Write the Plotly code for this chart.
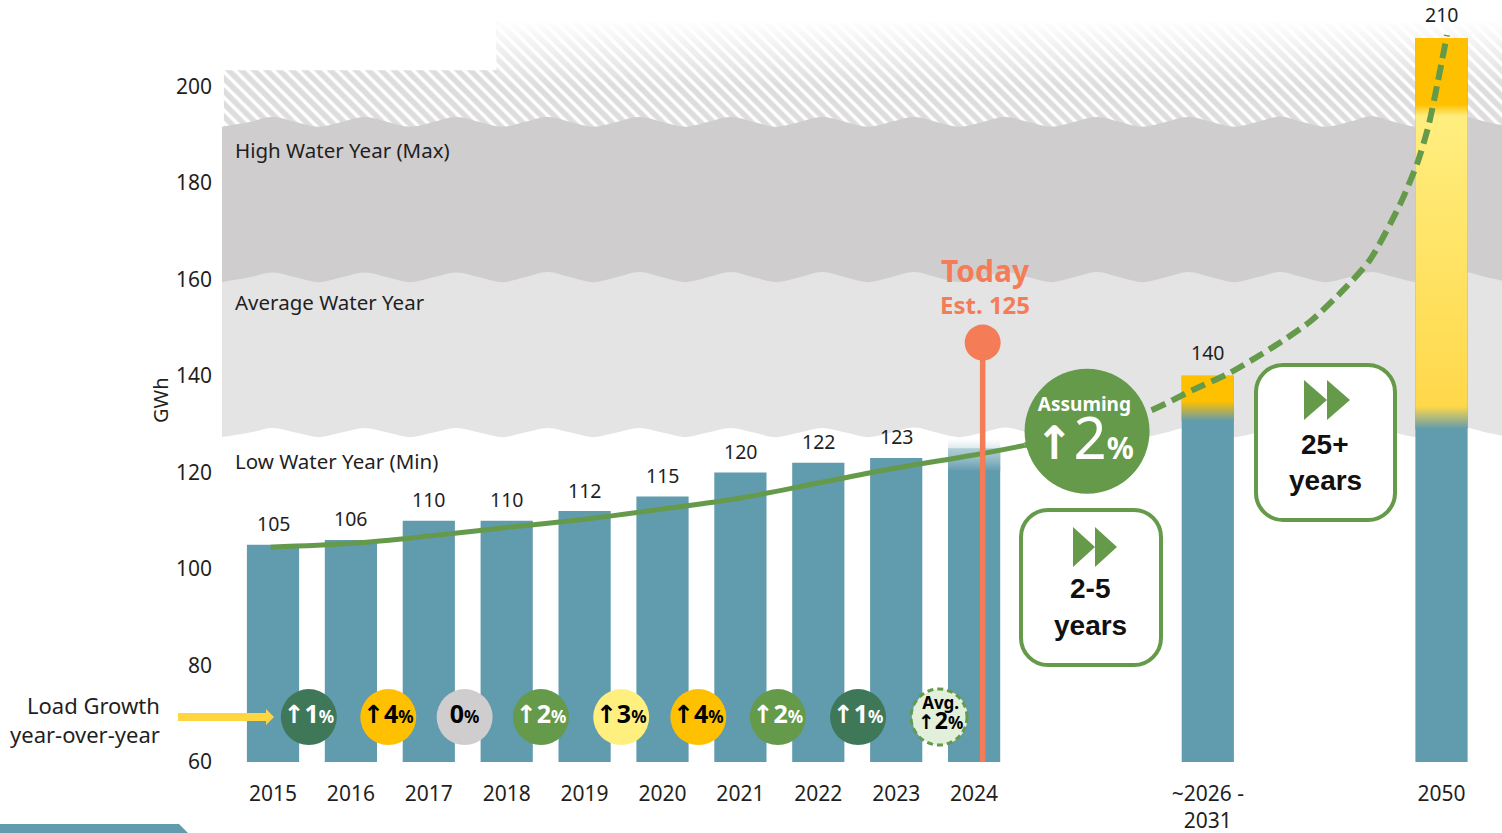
import plotly.graph_objects as go

# ---------- data ----------
bar_x = [0, 1, 2, 3, 4, 5, 6, 7, 8, 9, 12, 15]
bar_labels = ["2015", "2016", "2017", "2018", "2019", "2020", "2021", "2022", "2023", "2024", "~2026 -<br>2031", "2050"]
bar_values = [105, 106, 110, 110, 112, 115, 120, 122, 123, 125, 140, 210]
value_text = ["105", "106", "110", "110", "112", "115", "120", "122", "123", "", "140", "210"]
y_ticks = [60, 80, 100, 120, 140, 160, 180, 200]

curve_x = [-0.03, 1, 2, 3, 4, 5, 6, 7, 8, 9, 9.65]
curve_y = [104.5, 105.3, 106.8, 108.6, 110.3, 112.4, 114.7, 117.8, 120.9, 123.6, 125.6]
dash_x = [9.65, 11.22, 11.81, 12.28, 12.84, 13.31, 13.74, 14.08, 14.47, 14.69, 14.83, 14.95, 15.07]
dash_y = [125.6, 132.5, 137.1, 140.6, 146.0, 151.2, 157.8, 164.0, 175.6, 184.1, 191.6, 200.7, 210.6]

wave_x = [-0.66, -0.3, 0, 0.29, 0.59, 0.88, 1.18, 1.47, 1.76, 2.06, 2.35, 2.65, 2.94, 3.23, 3.53, 3.82, 4.11, 4.41,
          4.7, 5.0, 5.29, 5.58, 5.88, 6.17, 6.46, 6.76, 7.05, 7.35, 7.64, 7.93, 8.23, 8.52, 8.81, 9.11, 9.4, 9.7,
          9.99, 10.28, 10.58, 10.87, 11.16, 11.46, 11.75, 12.05, 12.34, 12.63, 12.93, 13.22, 13.51, 13.81, 14.1,
          14.4, 14.69, 14.98, 15.28, 15.58, 15.87]
high_top = [191.6, 192.6, 193.6, 192.6, 191.6, 192.6, 193.6, 192.6, 191.6, 192.6, 193.6, 192.6, 191.6, 192.6, 193.6,
            192.6, 191.6, 192.6, 193.6, 192.6, 191.6, 192.6, 193.6, 192.6, 191.6, 192.6, 193.6, 192.6, 191.6, 192.6,
            193.6, 192.6, 191.6, 192.6, 193.6, 192.6, 191.6, 192.6, 193.6, 192.6, 191.6, 192.6, 193.6, 192.6, 191.6,
            192.6, 193.7, 192.6, 191.6, 192.6, 193.8, 192.6, 191.6, 192.6, 193.7, 192.6, 191.6]
avg_top = [159.4, 160.4, 161.4, 160.4, 159.4, 160.4, 161.4, 160.4, 159.4, 160.4, 161.4, 160.4, 159.4, 160.4, 161.5,
           160.4, 159.4, 160.4, 161.5, 160.4, 159.4, 160.4, 161.5, 160.4, 159.4, 160.4, 161.5, 160.4, 159.4, 160.4,
           161.5, 160.4, 159.4, 160.4, 161.5, 160.4, 159.4, 160.4, 161.5, 160.4, 159.4, 160.4, 161.5, 160.4, 159.4,
           160.4, 161.5, 160.4, 159.4, 160.4, 161.5, 160.4, 159.4, 160.4, 161.5, 160.4, 159.4]
low_top = [127.3, 128.25, 129.2, 128.25, 127.3, 128.25, 129.2, 128.25, 127.3, 128.25, 129.2, 128.25, 127.3, 128.25,
           129.2, 128.25, 127.3, 128.25, 129.2, 128.25, 127.3, 128.25, 129.2, 128.25, 127.3, 128.25, 129.2, 128.25,
           127.3, 128.25, 129.3, 128.25, 127.3, 128.25, 129.3, 128.25, 127.3, 128.25, 129.3, 128.25, 127.3, 128.25,
           129.3, 128.25, 127.3, 128.25, 129.3, 128.25, 127.3, 128.25, 129.3, 128.25, 127.3, 128.25, 129.3, 128.25, 127.3]

growth_x = [0.46, 1.48, 2.46, 3.44, 4.47, 5.46, 6.48, 7.51, 8.56]
growth_y = [69.3] * 9
growth_text = ["↑|1", "↑|4", "|0", "↑|2", "↑|3", "↑|4", "↑|2", "↑|1", ""]
growth_fill = ["#3F7858", "#FFC000", "#CFCDCE", "#659A4B", "#FFEF7F", "#FFC000", "#659A4B", "#3F7858", "#E2EFDA"]
growth_ink = ["white", "black", "black", "white", "black", "black", "white", "white", "black"]

# ---------- styling ----------
FONT = "Noto Sans"
TEAL = "#619BAE"
GREEN = "#659A4B"
CORAL = "#F47C56"
AMBER = "#FFC000"
INK = "#1F1F1F"
BAR_W = 0.67
PX_PER_X = 77.9
PLOT_L, PLOT_B, PLOT_W = 222, 762, 1280


def px(x):
    return (x - PLOT_L) / PLOT_W


def py(y):
    return (PLOT_B - y) / PLOT_B


def arrow(size):
    return f"<span style='font-family:DejaVu Sans;font-weight:bold;font-size:{size}px'>↑</span>"


fig = go.Figure()


def band(y, color, z=0):
    fig.add_trace(go.Scatter(x=wave_x, y=y, mode="lines", line=dict(width=0, shape="spline", smoothing=1),
                             fill="tozeroy", fillcolor=color, zorder=z, hoverinfo="skip", showlegend=False))


# hatched sky
fig.add_trace(go.Scatter(x=[-0.63, -0.63, 2.87, 2.87, 15.8, 15.8], y=[150, 203.3, 203.3, 213.4, 213.4, 150],
                         mode="lines", line=dict(width=0), fill="toself", fillcolor="white",
                         fillpattern=dict(shape="\\", fgcolor="#BBBBBB", bgcolor="white", size=9, solidity=0.62),
                         zorder=0, hoverinfo="skip", showlegend=False))
fig.add_trace(go.Scatter(x=[2.87, 2.87, 15.8, 15.8, 2.87], y=[200, 213.6, 213.6, 200, 200], mode="lines",
                         line=dict(width=0), fill="toself",
                         fillgradient=dict(type="vertical", start=200, stop=213.6,
                                           colorscale=[[0, "rgba(255,255,255,0)"], [1, "rgba(255,255,255,0.98)"]]),
                         zorder=0, hoverinfo="skip", showlegend=False))
band(high_top, "#CFCDCE")
band(avg_top, "#E4E4E5")
band(low_top, "white")

fig.add_trace(go.Bar(x=bar_x, y=bar_values, width=BAR_W, marker=dict(color=TEAL, line=dict(width=0)),
                     zorder=1, hoverinfo="skip", showlegend=False))


def grad(cx, lo, hi, scale):
    a, b = cx - BAR_W / 2, cx + BAR_W / 2
    fig.add_trace(go.Scatter(x=[a, a, b, b, a], y=[lo, hi, hi, lo, lo], mode="lines", line=dict(width=0),
                             fill="toself", fillgradient=dict(type="vertical", start=lo, stop=hi, colorscale=scale),
                             zorder=2, hoverinfo="skip", showlegend=False))


grad(9, 120.3, 127, [[0, TEAL], [1, "rgba(255,255,255,0.6)"]])
grad(12, 130.6, 140, [[0, TEAL], [0.44, AMBER], [1, AMBER]])
grad(15, 129, 210, [[0, TEAL], [0.058, "#FFD84A"], [0.80, "#FFEE7F"], [0.83, AMBER], [1, AMBER]])

fig.add_trace(go.Scatter(x=curve_x, y=curve_y, mode="lines", line=dict(color=GREEN, width=5, shape="spline"),
                         zorder=3, hoverinfo="skip", showlegend=False))
fig.add_trace(go.Scatter(x=dash_x, y=dash_y, mode="lines",
                         line=dict(color=GREEN, width=6, dash="15px,7px", shape="spline", smoothing=0.7),
                         zorder=3, hoverinfo="skip", showlegend=False))
fig.add_trace(go.Scatter(x=[9.11, 9.11], y=[60, 146.7], mode="lines", line=dict(color=CORAL, width=5.5),
                         zorder=4, hoverinfo="skip", showlegend=False))
fig.add_trace(go.Scatter(x=[9.11], y=[146.9], mode="markers", marker=dict(color=CORAL, size=36, line=dict(width=0)),
                         zorder=4, hoverinfo="skip", showlegend=False))
fig.add_trace(go.Scatter(x=[10.45], y=[128.5], mode="markers", marker=dict(color=GREEN, size=125, line=dict(width=0)),
                         zorder=4, hoverinfo="skip", showlegend=False))

texts = []
for t in growth_text:
    if not t:
        texts.append("")
    else:
        a, d = t.split("|")
        texts.append((arrow(25) if a else "") + f"<b>{d}</b><span style='font-size:17px'><b>%</b></span>")
fig.add_trace(go.Scatter(x=growth_x, y=growth_y, mode="markers+text", text=texts, textposition="middle center",
                         textfont=dict(family=FONT, size=25, color=growth_ink),
                         marker=dict(color=growth_fill, size=56, line=dict(width=0)),
                         zorder=5, hoverinfo="skip", showlegend=False, cliponaxis=False))

shapes = []


def rounded(x0, y0, x1, y1, r):
    cx, cy = (x0 + x1) / 2, (y0 + y1) / 2
    hw, hh = (x1 - x0) / 2, (y1 - y0) / 2
    k = r * 0.45
    p = (f"M {-hw + r} {-hh} L {hw - r} {-hh} C {hw - k} {-hh} {hw} {-hh + k} {hw} {-hh + r} "
         f"L {hw} {hh - r} C {hw} {hh - k} {hw - k} {hh} {hw - r} {hh} "
         f"L {-hw + r} {hh} C {-hw + k} {hh} {-hw} {hh - k} {-hw} {hh - r} "
         f"L {-hw} {-hh + r} C {-hw} {-hh + k} {-hw + k} {-hh} {-hw + r} {-hh} Z")
    shapes.append(dict(type="path", xref="paper", yref="paper", xsizemode="pixel", ysizemode="pixel",
                       xanchor=px(cx), yanchor=py(cy), path=p, fillcolor="white",
                       line=dict(color=GREEN, width=4), layer="above"))


rounded(1021, 510, 1161, 665, 27)
rounded(1256, 365, 1395, 520, 27)


def tri(x0, xm, y):
    shapes.append(dict(type="path", xref="paper", yref="paper", xsizemode="pixel", ysizemode="pixel",
                       xanchor=px(x0), yanchor=py(y), path=f"M 0 -20 L {xm - x0} 0 L 0 20 Z",
                       fillcolor=GREEN, line=dict(width=0), layer="above"))


tri(1073, 1095, 547)
tri(1095, 1117, 547)
tri(1304, 1327, 400)
tri(1327, 1350, 400)

# dashed ring of the average marker
shapes.append(dict(type="circle", xref="paper", yref="paper", xsizemode="pixel", ysizemode="pixel",
                   xanchor=px(939), yanchor=py(717), x0=-28, x1=28, y0=-28, y1=28,
                   line=dict(color=GREEN, width=3, dash="6px,4px"), fillcolor="rgba(0,0,0,0)", layer="above"))

# load growth arrow
shapes.append(dict(type="path", xref="paper", yref="paper", xsizemode="pixel", ysizemode="pixel",
                   xanchor=px(178), yanchor=py(717),
                   path="M 0 -4 L 88 -4 L 88 -8 L 96 0 L 88 8 L 88 4 L 0 4 Z",
                   fillcolor="#FFD63F", line=dict(width=0), layer="above"))
# teal tab, bottom-left
shapes.append(dict(type="path", xref="paper", yref="paper", xsizemode="pixel", ysizemode="pixel",
                   xanchor=px(0), yanchor=py(833), path="M 0 0 L 0 9 L 179 9 L 188 0 Z",
                   fillcolor=TEAL, line=dict(width=0), layer="above"))

ann = []


def label(x, y, text, size=21, color=INK, anchor="center", family=FONT):
    ann.append(dict(x=px(x), y=py(y), xref="paper", yref="paper", text=text, showarrow=False, xanchor=anchor,
                    yanchor="middle", align="right" if anchor == "right" else "center",
                    font=dict(family=family, size=size, color=color)))


for x, v, t in zip(bar_x, bar_values, value_text):
    if t:
        ann.append(dict(x=x, y=v, xref="x", yref="y", text=t, showarrow=False, yshift=23 if v >= 140 else 21,
                        yanchor="middle", font=dict(family=FONT, size=19.5, color=INK)))

label(233, 150, "High Water Year (Max)", size=20.5, anchor="left")
label(233, 302, "Average Water Year", size=20.5, anchor="left")
label(233, 461, "Low Water Year (Min)", size=20.5, anchor="left")
label(162, 719, "Load Growth<br>year-over-year", size=22, anchor="right")
label(985, 271, "<b>Today</b>", size=30, color=CORAL)
label(985, 304, "<b>Est. 125</b>", size=24, color=CORAL)
label(1084, 434,
      "<span style='font-size:19px'><b>Assuming</b></span><br>" + arrow(46) +
      "<span style='font-size:58px'>2</span><span style='font-size:30px'><b>%</b></span>",
      size=37, color="white")
label(940, 713,
      "<span style='font-size:17px'><b>Avg.</b></span><br>" + arrow(20) +
      "<span style='font-size:23px'><b>2</b></span><span style='font-size:17px'><b>%</b></span>",
      size=15, color="black")
label(1090, 588, "<b>2-5</b>", size=28, color="#111111", family="Liberation Sans")
label(1090, 625, "<b>years</b>", size=28, color="#111111", family="Liberation Sans")
label(1325, 444, "<b>25+</b>", size=28, color="#111111", family="Liberation Sans")
label(1325, 480, "<b>years</b>", size=28, color="#111111", family="Liberation Sans")
ann.append(dict(x=px(160), y=py(400), xref="paper", yref="paper", text="GWh", textangle=-90, showarrow=False,
                xanchor="center", yanchor="middle", font=dict(family=FONT, size=20, color=INK)))

fig.update_layout(
    width=1502, height=833, margin=dict(l=PLOT_L, r=0, t=0, b=833 - PLOT_B, pad=0),
    paper_bgcolor="white", plot_bgcolor="white", showlegend=False, barmode="overlay",
    font=dict(family=FONT, size=20, color=INK),
    shapes=shapes, annotations=ann,
    xaxis=dict(range=[(PLOT_L - 273) / PX_PER_X, (1502 - 273) / PX_PER_X], tickmode="array", tickvals=bar_x,
               ticktext=bar_labels, showgrid=False, zeroline=False, showline=False, ticks="",
               tickfont=dict(family=FONT, size=21, color=INK), tickangle=0, ticklabelstandoff=17),
    yaxis=dict(range=[60, 60 + PLOT_B / 4.827], tickmode="array", tickvals=y_ticks, showgrid=False, zeroline=False,
               showline=False, ticks="", tickfont=dict(family=FONT, size=21, color=INK), ticklabelstandoff=9),
)

fig.write_html("out.html", config=dict(displayModeBar=False),
               post_script="document.body.style.margin='0';document.body.style.overflow='hidden';")
